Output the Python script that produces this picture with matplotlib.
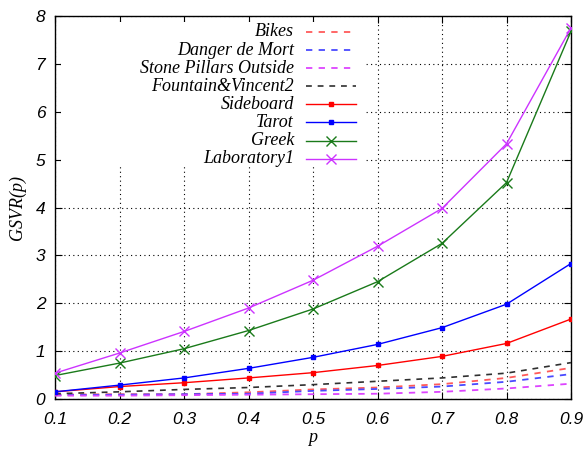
import matplotlib
matplotlib.use("Agg")
import matplotlib.pyplot as plt
from matplotlib.lines import Line2D
from matplotlib.patches import Rectangle

p = [0.1, 0.2, 0.3, 0.4, 0.5, 0.6, 0.7, 0.8, 0.9]
bikes = [0.09, 0.10, 0.10, 0.14, 0.20, 0.24, 0.31, 0.44, 0.65]
danger = [0.08, 0.09, 0.10, 0.11, 0.17, 0.21, 0.26, 0.36, 0.52]
stone = [0.07, 0.07, 0.08, 0.09, 0.10, 0.11, 0.15, 0.22, 0.32]
fountain = [0.11, 0.15, 0.20, 0.24, 0.30, 0.37, 0.44, 0.54, 0.76]
sideboard = [0.15, 0.26, 0.34, 0.44, 0.55, 0.70, 0.89, 1.16, 1.67]
tarot = [0.15, 0.29, 0.44, 0.64, 0.87, 1.14, 1.49, 1.98, 2.83]
greek = [0.49, 0.75, 1.05, 1.43, 1.88, 2.45, 3.25, 4.52, 7.68]
lab1 = [0.54, 0.96, 1.41, 1.90, 2.48, 3.19, 3.98, 5.33, 7.75]

xticks = [0.1, 0.2, 0.3, 0.4, 0.5, 0.6, 0.7, 0.8, 0.9]
yticks = [0, 1, 2, 3, 4, 5, 6, 7, 8]

W, H = 586, 455
serif = ['Liberation Serif', 'DejaVu Serif']
sans = ['Liberation Sans', 'DejaVu Sans']

fig = plt.figure(figsize=(W / 100, H / 100), dpi=100)
ax = fig.add_axes([55 / W, 56 / H, (571 - 55) / W, (399 - 16) / H])
ax.set_axisbelow(True)

dash = (0, (3.5, 3.5))
series = [
    ('Bikes', bikes, dict(color='#ff5a5a', lw=1.3, linestyle=dash)),
    ('Danger de Mort', danger, dict(color='#4a4aff', lw=1.3, linestyle=dash)),
    ('Stone Pillars Outside', stone, dict(color='#dd44ff', lw=1.3, linestyle=dash)),
    ('Fountain&Vincent2', fountain, dict(color='#303030', lw=1.2, linestyle=dash)),
    ('Sideboard', sideboard, dict(color='red', lw=1, marker='s', ms=3.5)),
    ('Tarot', tarot, dict(color='blue', lw=1, marker='s', ms=3.5)),
    ('Greek', greek, dict(color='#1a7a1a', lw=1, marker='x', ms=7, mew=1)),
    ('Laboratory1', lab1, dict(color='#cc33ff', lw=1, marker='x', ms=7, mew=1)),
]
for name, ys, st in series:
    ax.plot(p, ys, zorder=3, **st)

ax.set_xlim(0.1, 0.9)
ax.set_ylim(0, 8)
ax.set_xticks(xticks)
ax.set_xticklabels([f"{t:.1f}" for t in xticks])
ax.set_yticks(yticks)
ax.set_yticklabels([str(t) for t in yticks])
ax.tick_params(direction='in', top=True, right=True, length=5, labelsize=12.5)
ax.tick_params(axis='x', pad=9)
ax.tick_params(axis='y', pad=7)
for lab in ax.get_xticklabels() + ax.get_yticklabels():
    lab.set_family(sans)
    lab.set_style('italic')
ax.grid(True, color='black', linestyle=(0, (1, 3)), linewidth=0.8)
for s in ax.spines.values():
    s.set_linewidth(1)

ax.set_xlabel('p', fontsize=13, family=serif, style='italic', labelpad=2)
ax.set_ylabel('GSVR(p)', fontsize=13, family=serif, style='italic', labelpad=7)

# white background behind key (covers grid)
fig.add_artist(Rectangle((61 / W, 1 - 166 / H), (365 - 61) / W, (166 - 22) / H,
                         transform=fig.transFigure, facecolor='white', edgecolor='none',
                         zorder=1))

# manual legend (gnuplot style: right-aligned text, sample to the right)
row0, step = 32, 18.1
for i, (name, ys, st) in enumerate(series):
    yy = 1 - (row0 + i * step) / H
    fig.text(294 / W, yy, name, ha='right', va='center', fontsize=13,
             family=serif, style='italic', zorder=4)
    lst = {k: v for k, v in st.items() if k not in ('marker', 'ms', 'mew')}
    fig.add_artist(Line2D([306 / W, 356 / W], [yy, yy], transform=fig.transFigure,
                          zorder=4, **lst))
    if 'marker' in st:
        fig.add_artist(Line2D([331 / W], [yy], transform=fig.transFigure, linestyle='none',
                              color=st['color'], marker=st['marker'], ms=st['ms'],
                              mew=st.get('mew', 1), zorder=4))

fig.savefig('out.png', dpi=100)
